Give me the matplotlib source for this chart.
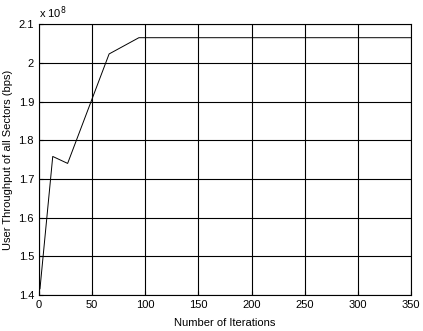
import matplotlib
matplotlib.use("Agg")
import matplotlib.pyplot as plt
from matplotlib.ticker import FuncFormatter

plt.rcParams['font.family'] = ['Liberation Sans', 'DejaVu Sans']

# throughput vs iterations
iterations = [1, 13, 27, 66, 94, 350]
throughput = [1.416e8, 1.758e8, 1.740e8, 2.023e8, 2.065e8, 2.065e8]

fig = plt.figure(figsize=(4.23, 3.31), dpi=100)
ax = fig.add_axes([0.092, 0.109, 0.880, 0.818])

ax.plot(iterations, throughput, color='black', linewidth=0.7)

ax.set_xlim(0, 350)
ax.set_ylim(1.4e8, 2.1e8)
ax.set_xticks(range(0, 351, 50))
ax.set_yticks([1.4e8, 1.5e8, 1.6e8, 1.7e8, 1.8e8, 1.9e8, 2.0e8, 2.1e8])
ax.yaxis.set_major_formatter(FuncFormatter(lambda v, p: '%g' % round(v / 1e8, 2)))
ax.grid(True, color='black', linewidth=0.8, linestyle='-')
ax.tick_params(direction='in', labelsize=8, length=3, color='black')
for s in ax.spines.values():
    s.set_linewidth(0.8)

ax.text(0.0, 1.01, r'x 10$^{8}$', transform=ax.transAxes, fontsize=8, ha='left', va='bottom')
ax.set_xlabel('Number of Iterations', fontsize=8, labelpad=6)
ax.set_ylabel('User Throughput of all Sectors (bps)', fontsize=8, labelpad=4)

fig.savefig('out.png', dpi=100)
